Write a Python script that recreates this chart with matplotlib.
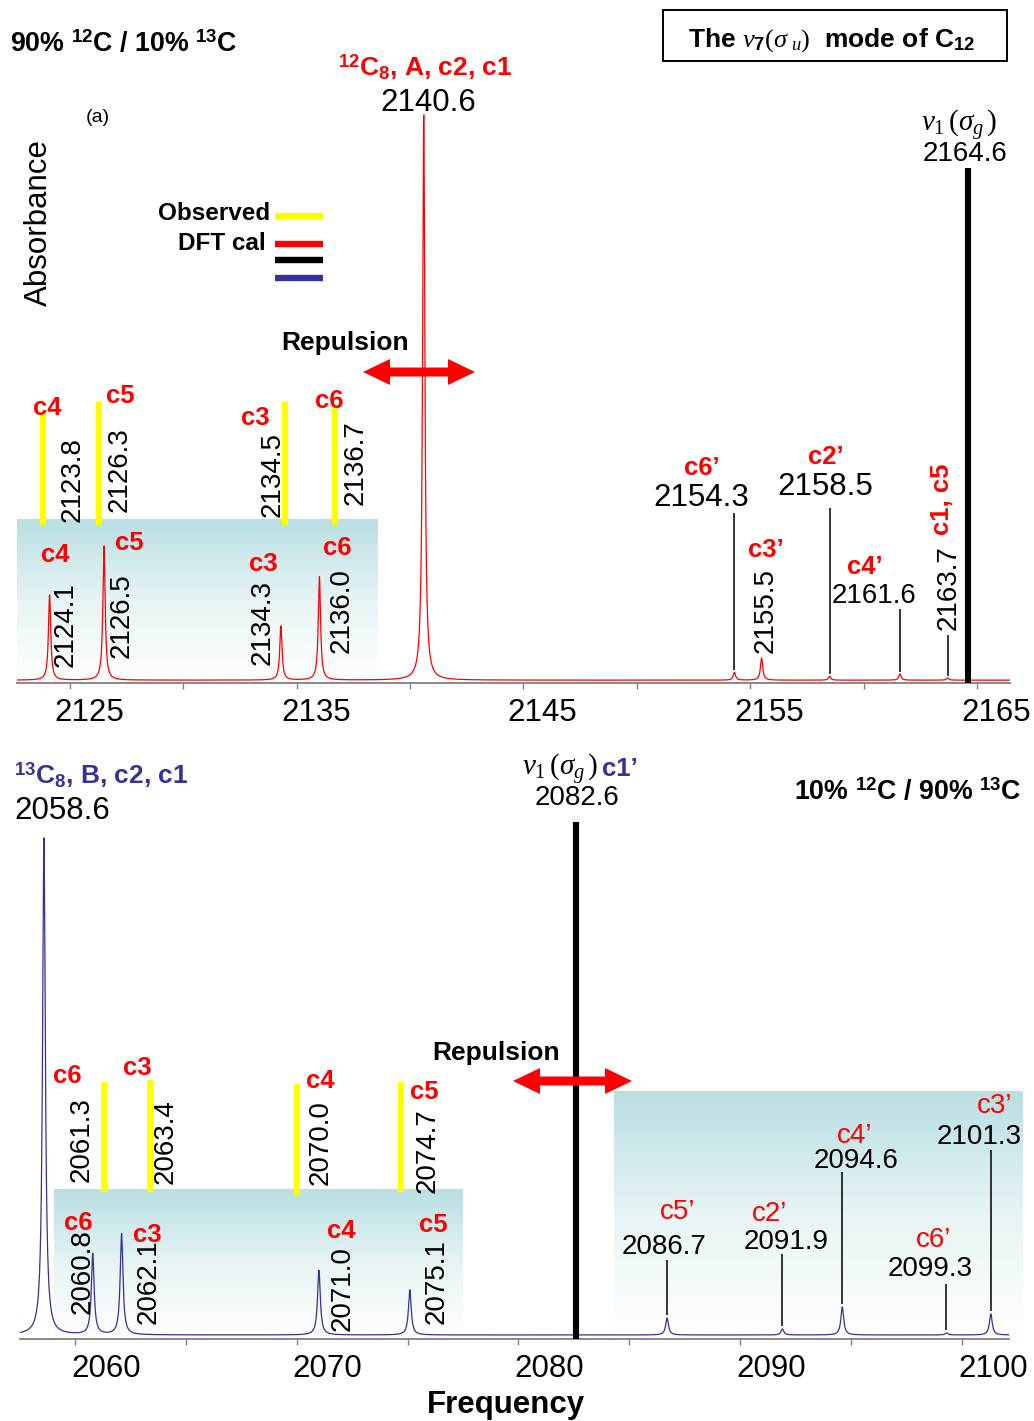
import numpy as np
import matplotlib
matplotlib.use("Agg")
import matplotlib.pyplot as plt
import matplotlib.transforms as mtrans
from matplotlib.colors import LinearSegmentedColormap
from matplotlib.patches import Polygon, Rectangle
from matplotlib.lines import Line2D

plt.rcParams['font.family'] = ['Liberation Sans', 'DejaVu Sans']
plt.rcParams['mathtext.fontset'] = 'custom'
plt.rcParams['mathtext.rm'] = 'Liberation Serif'
plt.rcParams['mathtext.it'] = 'Liberation Serif:italic'
plt.rcParams['mathtext.bf'] = 'Liberation Sans:bold'

# ---------------- panel (a): 90% 12C / 10% 13C ----------------
top_calc_freq = [2124.1, 2126.5, 2134.3, 2136.0, 2140.6, 2154.3, 2155.5, 2158.5, 2161.6, 2163.7]
top_calc_amp = [0.150, 0.236, 0.095, 0.182, 0.995, 0.014, 0.039, 0.007, 0.011, 0.004]
top_obs_freq = [2123.8, 2126.3, 2134.5, 2136.7]
top_obs_names = ['c4', 'c5', 'c3', 'c6']
top_stick_freq, top_stick_int = 2164.6, 0.907
top_major = [2125, 2135, 2145, 2155, 2165]
top_minor = [2130, 2140, 2150, 2160]

# ---------------- lower panel: 10% 12C / 90% 13C ----------------
bot_calc_freq = [2058.6, 2060.8, 2062.1, 2071.0, 2075.1, 2086.7, 2091.9, 2094.6, 2099.3, 2101.3]
bot_calc_amp = [0.990, 0.161, 0.201, 0.129, 0.090, 0.034, 0.012, 0.056, 0.004, 0.042]
bot_obs_freq = [2061.3, 2063.4, 2070.0, 2074.7]
bot_obs_names = ['c6', 'c3', 'c4', 'c5']
bot_stick_freq, bot_stick_int = 2082.6, 1.03
bot_major = [2060, 2070, 2080, 2090, 2100]
bot_minor = [2065, 2075, 2085, 2095]

RED = '#ff0000'
BLUE = '#333399'
YELLOW = '#ffff00'
TEAL = '#b9dfe2'
GRAY = '#808080'

W, H = 1034, 1421
fig = plt.figure(figsize=(W / 100, H / 100), dpi=100)


def fx(px):
    return px / W


def fy(py):
    return 1 - py / H


def ftext(x, y, s, **kw):
    kw.setdefault('va', 'baseline')
    return fig.text(fx(x), fy(y), s, **kw)


def vtext(xr, yb, s, size=20, **kw):
    # rotated label: xr is the baseline (right edge), yb the first character
    return fig.text(fx(xr), fy(yb), s, rotation=90, rotation_mode='anchor',
                    ha='left', va='baseline', fontsize=size, **kw)


def lorentz(x, centers, amps, hwhm, base):
    x = np.asarray(x)[:, None]
    c = np.asarray(centers)[None, :]
    a = np.asarray(amps)[None, :]
    return base + (a * hwhm ** 2 / ((x - c) ** 2 + hwhm ** 2)).sum(axis=1)


teal_cmap = LinearSegmentedColormap.from_list('teal', ['#ffffff', '#e8f4f5', TEAL])
grad = np.linspace(0, 1, 256)[:, None]


def shade(ax, x0, x1, y1):
    im = ax.imshow(grad, extent=[x0, x1, 0, y1], origin='lower', aspect='auto',
                   cmap=teal_cmap, vmin=0, vmax=1, zorder=0, interpolation='bilinear')
    im.set_clip_on(False)


def style_axis(ax, major, minor, dx_px, xlim):
    ax.set_xlim(*xlim)
    ax.set_ylim(0, 1.2)
    for s in ('left', 'right', 'top'):
        ax.spines[s].set_visible(False)
    ax.spines['bottom'].set_color(GRAY)
    ax.spines['bottom'].set_linewidth(1.3)
    ax.set_yticks([])
    ax.set_xticks(major + minor)
    ax.tick_params(axis='x', length=4, width=1, color=GRAY, labelbottom=False)
    off = mtrans.ScaledTranslation(dx_px / 100, -38 / 100, fig.dpi_scale_trans)
    tr = mtrans.blended_transform_factory(ax.transData, ax.transAxes) + off
    for v in major:
        ax.text(v, 0, str(v), transform=tr, ha='center', va='baseline',
                fontsize=22.5, clip_on=False)
    ax.patch.set_alpha(0)


def double_arrow(x0, x1, yc, half_shaft=4.5, half_head=13, head_len=27):
    pts = [(x0, yc), (x0 + head_len, yc - half_head), (x0 + head_len, yc - half_shaft),
           (x1 - head_len, yc - half_shaft), (x1 - head_len, yc - half_head), (x1, yc),
           (x1 - head_len, yc + half_head), (x1 - head_len, yc + half_shaft),
           (x0 + head_len, yc + half_shaft), (x0 + head_len, yc + half_head)]
    pts = [(fx(a), fy(b)) for a, b in pts]
    fig.add_artist(Polygon(pts, closed=True, transform=fig.transFigure,
                           fc=RED, ec='none', zorder=4))


SUP12 = r'$^{\mathbf{12}}$'
SUP13 = r'$^{\mathbf{13}}$'

# =================== upper panel ===================
TOP_AXIS, TOP_SCALE = 683, 568
axT = fig.add_axes([fx(17), fy(TOP_AXIS), (1010 - 17) / W, 1.2 * TOP_SCALE / H])
top_xlim = (2122.663, 2166.455)
xt = np.linspace(*top_xlim, 24000)
top_spec = lorentz(xt, top_calc_freq, top_calc_amp, 0.06, 0.005)
shade(axT, top_xlim[0], 2138.54, 0.287)
axT.plot(xt, top_spec, color=RED, lw=0.9, zorder=3)
axT.vlines(top_stick_freq, 0, top_stick_int, color='k', lw=4.4, zorder=4)
top_obs_top = [0.477, 0.495, 0.495, 0.487]
axT.vlines(top_obs_freq, 0.278, top_obs_top, color=YELLOW, lw=4.4, zorder=2)

# leader lines to labels of weak bands
top_lead_freq = [2154.3, 2158.5, 2161.6, 2163.7]
top_lead_top = [0.299, 0.308, 0.130, 0.085]
top_lead_bot = lorentz(top_lead_freq, top_calc_freq, top_calc_amp, 0.06, 0.005) + 0.004
axT.vlines(top_lead_freq, top_lead_bot, top_lead_top, color='k', lw=1.1, zorder=3)
style_axis(axT, top_major, top_minor, 19, top_xlim)

# =================== lower panel ===================
BOT_AXIS, BOT_SCALE = 1339, 502
axB = fig.add_axes([fx(20), fy(BOT_AXIS), (1009 - 20) / W, 1.2 * BOT_SCALE / H])
bot_xlim = (2057.52, 2102.12)
xb = np.linspace(*bot_xlim, 24000)
bot_spec = lorentz(xb, bot_calc_freq, bot_calc_amp, 0.075, 0.008)
shade(axB, 2059.05, 2077.49, 0.297)
shade(axB, 2084.30, 2102.74, 0.494)
axB.plot(xb, bot_spec, color=BLUE, lw=0.9, zorder=3)
axB.vlines(bot_stick_freq, 0, bot_stick_int, color='k', lw=4.4, zorder=4)
bot_obs_top = [0.512, 0.516, 0.508, 0.512]
bot_obs_bot = [0.293, 0.293, 0.285, 0.293]
axB.vlines(bot_obs_freq, bot_obs_bot, bot_obs_top, color=YELLOW, lw=4.4, zorder=2)

bot_lead_freq = [2086.7, 2091.9, 2094.6, 2099.3, 2101.3]
bot_lead_top = [0.157, 0.169, 0.333, 0.110, 0.376]
bot_lead_bot = lorentz(bot_lead_freq, bot_calc_freq, bot_calc_amp, 0.075, 0.008) + 0.006
axB.vlines(bot_lead_freq, bot_lead_bot, bot_lead_top, color='k', lw=1.1, zorder=3)
style_axis(axB, bot_major, bot_minor, 31, bot_xlim)

# =================== annotations: upper panel ===================
ftext(10, 52, f'90% {SUP12}C / 10% {SUP13}C', fontsize=19.3, fontweight='bold')
fig.add_artist(Rectangle((fx(663), fy(61)), (1007 - 663) / W, 51 / H,
                         transform=fig.transFigure, fill=False, ec='k', lw=1.4))
ftext(832, 47, r'The $\mathit{v}_{\mathbf{7}}(\sigma_{\ \mathit{u}})$  mode of C$_{\mathbf{12}}$',
      fontsize=19, fontweight='bold', ha='center')
ftext(98, 118, '(a)', fontsize=14, ha='center', va='center')
fig.text(fx(39), fy(223), 'Absorbance', rotation=90, fontsize=22.5, ha='center', va='center')

ftext(425, 76, SUP12 + r'C$_{\mathbf{8}}$, A, c2, c1', fontsize=19, fontweight='bold',
      color=RED, ha='center')
ftext(428, 111, '2140.6', fontsize=22.5, ha='center')

# legend
ftext(270, 220, 'Observed', fontsize=17.5, fontweight='bold', ha='right')
ftext(266, 250, 'DFT cal', fontsize=17.5, fontweight='bold', ha='right')
for yy, cc in [(216, YELLOW), (243.5, RED), (259.5, 'k'), (278, BLUE)]:
    fig.add_artist(Line2D([fx(275), fx(323)], [fy(yy), fy(yy)], color=cc, lw=4.6,
                          solid_capstyle='butt', transform=fig.transFigure))

ftext(345, 350, 'Repulsion', fontsize=19, fontweight='bold', ha='center')
double_arrow(363, 475, 372)

# observed band labels
for (x, y), s in zip([(47, 415), (120, 403), (255, 425), (329, 408)], top_obs_names):
    ftext(x, y, s, fontsize=18.5, fontweight='bold', color=RED, ha='center')
for (x, y), v in zip([(80, 522), (127, 512), (280, 517), (363, 505)], top_obs_freq):
    vtext(x, y, f'{v:.1f}')

# calculated band labels inside the shaded box
for (x, y), s in zip([(55, 562), (129, 550), (263, 571), (337, 555)], ['c4', 'c5', 'c3', 'c6']):
    ftext(x, y, s, fontsize=18.5, fontweight='bold', color=RED, ha='center')
for (x, y), v in zip([(73, 667), (129, 658), (270, 665), (349, 653)], top_calc_freq[:4]):
    vtext(x, y, f'{v:.1f}')

# weak bands on the right
ftext(702, 475, 'c6’', fontsize=18.5, fontweight='bold', color=RED, ha='center')
ftext(701, 506, '2154.3', fontsize=22.5, ha='center')
ftext(826, 464, 'c2’', fontsize=18.5, fontweight='bold', color=RED, ha='center')
ftext(825, 495, '2158.5', fontsize=22.5, ha='center')
ftext(766, 557, 'c3’', fontsize=18.5, fontweight='bold', color=RED, ha='center')
vtext(773, 653, '2155.5')
ftext(865, 574, 'c4’', fontsize=18.5, fontweight='bold', color=RED, ha='center')
ftext(874, 603, '2161.6', fontsize=20, ha='center')
vtext(956, 630, '2163.7')
vtext(949, 535, 'c1, c5', size=18.5, fontweight='bold', color=RED)

ftext(959, 132, r'$\mathit{v}_1\,(\sigma_g\,)$', fontsize=21, ha='center')
ftext(965, 161, '2164.6', fontsize=20, ha='center')

# =================== annotations: lower panel ===================
ftext(14, 784, SUP13 + r'C$_{\mathbf{8}}$, B, c2, c1', fontsize=19, fontweight='bold', color=BLUE)
ftext(14, 819, '2058.6', fontsize=22.5)
ftext(598, 776, r'$\mathit{v}_1\,(\sigma_g\,)$', fontsize=21, ha='right')
ftext(602, 776, 'c1’', fontsize=18.5, fontweight='bold', color=BLUE)
ftext(577, 805, '2082.6', fontsize=20, ha='center')
ftext(1022, 800, f'10% {SUP12}C / 90% {SUP13}C', fontsize=19.3, fontweight='bold', ha='right')

ftext(496, 1060, 'Repulsion', fontsize=19, fontweight='bold', ha='center')
double_arrow(513, 632, 1081)

for (x, y), s in zip([(67, 1083), (137, 1075), (320, 1088), (424, 1099)], bot_obs_names):
    ftext(x, y, s, fontsize=18.5, fontweight='bold', color=RED, ha='center')
for (x, y), v in zip([(89, 1182), (173, 1184), (328, 1185), (435, 1193)], bot_obs_freq):
    vtext(x, y, f'{v:.1f}')

for (x, y), s in zip([(78, 1230), (147, 1242), (341, 1238), (433, 1232)], ['c6', 'c3', 'c4', 'c5']):
    ftext(x, y, s, fontsize=18.5, fontweight='bold', color=RED, ha='center')
for (x, y), v in zip([(90, 1314), (156, 1324), (350, 1331), (444, 1324)], bot_calc_freq[1:5]):
    vtext(x, y, f'{v:.1f}')

right_names = ['c5’', 'c2’', 'c4’', 'c6’', 'c3’']
right_name_pos = [(678, 1219), (770, 1221), (855, 1143), (934, 1247), (995, 1113)]
right_val_pos = [(664, 1254), (786, 1249), (856, 1168), (930, 1276), (979, 1144)]
for (x, y), s in zip(right_name_pos, right_names):
    ftext(x, y, s, fontsize=20, color=RED, ha='center')
for (x, y), v in zip(right_val_pos, bot_calc_freq[5:]):
    ftext(x, y, f'{v:.1f}', fontsize=20, ha='center')

ftext(506, 1413, 'Frequency', fontsize=22.5, fontweight='bold', ha='center')

fig.savefig('out.png', dpi=100)
